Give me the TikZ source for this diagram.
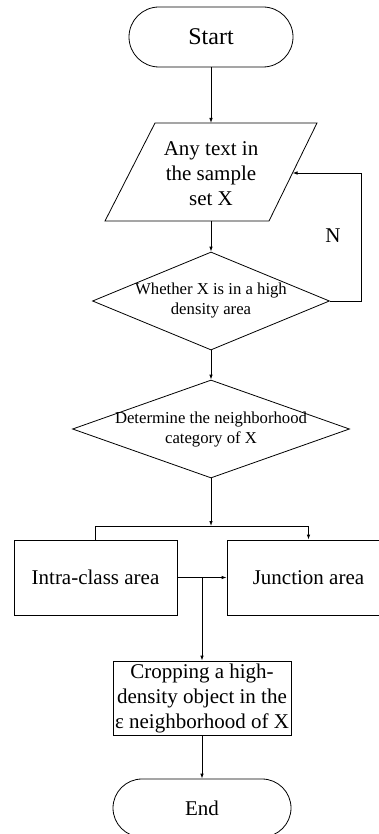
\documentclass[tikz,border=0pt]{standalone}
\usepackage{fontspec}
\setmainfont{Liberation Serif}
\usetikzlibrary{arrows.meta,shapes.geometric,shapes.misc}
\begin{document}
\begin{tikzpicture}[x=1pt,y=-1pt,
  every node/.style={font=\fontsize{21}{25}\selectfont},
  line/.style={draw=black, line width=0.8pt},
  arr/.style={line, -{Latex[length=5pt,width=3.5pt]}},
  term/.style={rounded rectangle, draw, line width=0.8pt, minimum width=164pt, minimum height=60pt, inner sep=0pt},
  boxn/.style={rectangle, draw, line width=0.8pt, inner sep=1pt, align=center},
  dia/.style={diamond, draw, line width=0.8pt, inner sep=1pt},
  lbl/.style={align=center, inner sep=0pt},
  small/.style={font=\fontsize{16.7}{20}\selectfont}
]
\useasboundingbox (0,0) rectangle (379,834);

\node[term, font=\fontsize{24}{28}\selectfont] (start) at (211,37) {Start};
% parallelogram
\coordinate (pTL) at (155,123);
\coordinate (pTR) at (317,123);
\coordinate (pBR) at (269,221);
\coordinate (pBL) at (105,221);
\draw[line] (pTL) -- (pTR) -- (pBR) -- (pBL) -- cycle;
\coordinate (pN) at (211,123);
\coordinate (pS) at (211,221);
\coordinate (pE) at (292.5,173);
\node[lbl] (inpt) at (211,174) {Any text in\\the sample\\set X};

\node[dia, minimum width=237pt, minimum height=98pt] (d1) at (211,301) {};
\node[lbl, small] (d1t) at (211,301) {Whether X is in a high\\density area};
\node[dia, minimum width=277pt, minimum height=98pt] (d2) at (211,429) {};
\node[lbl, small] (d2t) at (211,430) {Determine the neighborhood\\category of X};
\coordinate (br) at (211,526);
\node[boxn, minimum width=163pt, minimum height=75pt] (intra) at (95.5,577.5) {Intra-class area};
\node[boxn, minimum width=163pt, minimum height=75pt] (junc) at (308.5,577.5) {Junction area};
\node[boxn, minimum width=178pt, minimum height=74pt] (crop) at (202,698) {Cropping a high-\\density object in the\\ε neighborhood of X};
\node[term, minimum width=178pt, minimum height=58pt] (end) at (202,808) {End};
\node (nl) at (333,236) {N};

\draw[arr] (start) -- (pN);
\draw[arr] (pS) -- (d1.north);
\draw[arr] (d1.east) -- ++(31,0) |- (pE);
\draw[arr] (d1) -- (d2);
\draw[arr] (d2) -- (br);
\draw[line] (intra.north) |- (br);
\draw[arr] (br) -| (junc.north);
\draw[arr] (intra.east) -- (junc.west);
\draw[arr] (intra.east -| crop.north) -- (crop.north);
\draw[arr] (crop) -- (end);
\end{tikzpicture}
\end{document}
